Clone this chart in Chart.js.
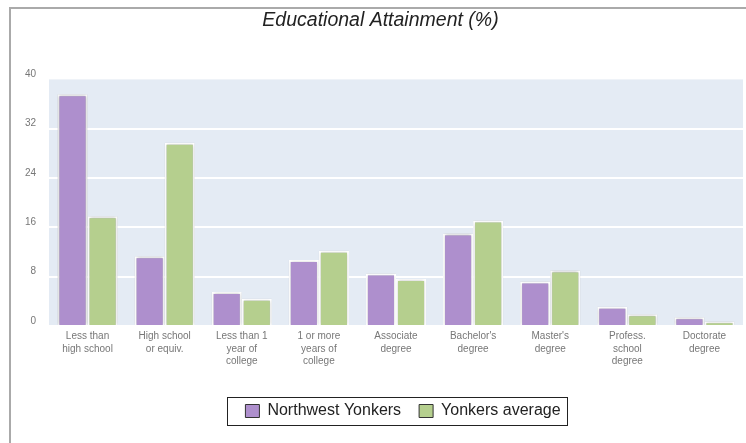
<!DOCTYPE html>
<html>
<head>
<meta charset="utf-8">
<script src="https://cdn.jsdelivr.net/npm/chart.js@4.4.1/dist/chart.umd.min.js"></script>
<style>
  html, body { margin: 0; padding: 0; background: #fff; overflow: hidden; }
  #frame { position: absolute; left: 9px; top: 7px; width: 800px; height: 500px;
           border-left: 2px solid #aaa; border-top: 2px solid #aaa; }
  #wrap { position: absolute; left: 0; top: 0; width: 746px; height: 443px; }
</style>
</head>
<body>
<div id="frame"></div>
<div id="wrap"><canvas id="myChart" width="746" height="443"></canvas></div>
<script>
// data
const categories = [
  ["Less than", "high school"],
  ["High school", "or equiv."],
  ["Less than 1", "year of", "college"],
  ["1 or more", "years of", "college"],
  ["Associate", "degree"],
  ["Bachelor's", "degree"],
  ["Master's", "degree"],
  ["Profess.", "school", "degree"],
  ["Doctorate", "degree"]
]
const northwestYonkers = [37.6, 11.3, 5.5, 10.7, 8.5, 15.0, 7.2, 3.1, 1.4]
const yonkersAverage = [17.8, 29.7, 4.4, 12.2, 7.6, 17.1, 9.0, 1.9, 0.7]
const yTicks = [0, 8, 16, 24, 32, 40]

const plotBg = {
  id: "plotBg",
  beforeDraw(chart) {
    const a = chart.chartArea, c = chart.ctx
    c.save()
    c.fillStyle = "#e4ebf4"
    c.fillRect(a.left, a.top, a.right - a.left, a.bottom - a.top)
    c.restore()
  }
}

// soft grey halo round the bars
const barShadow = {
  id: "barShadow",
  beforeDatasetsDraw(chart) {
    const c = chart.ctx
    c.save()
    c.shadowColor = "rgba(0,0,0,0.28)"
    c.shadowBlur = 3
  },
  afterDatasetsDraw(chart) {
    chart.ctx.restore()
  }
}

// nudge legend a bit right, like the original
const LEGEND_SHIFT = 7
const legendShift = {
  id: "legendShift",
  afterUpdate(chart) {
    const lg = chart.legend
    if (!lg) return
    lg.left += LEGEND_SHIFT
    lg.right += LEGEND_SHIFT
    lg.legendHitBoxes.forEach(h => { h.left += LEGEND_SHIFT })
  }
}

// box round the legend
const legendBox = {
  id: "legendBox",
  afterDraw(chart) {
    const lg = chart.legend
    if (!lg || !lg.legendHitBoxes.length) return
    const hb = lg.legendHitBoxes
    const first = hb[0], last = hb[hb.length - 1]
    const c = chart.ctx
    c.save()
    c.strokeStyle = "#222"
    c.lineWidth = 1
    const x1 = Math.round(first.left - 18) + 0.5
    const x2 = Math.round(last.left + last.width + 6) + 0.5
    const yc = first.top + first.height / 2
    c.strokeRect(x1, Math.round(yc - 14) + 0.5, x2 - x1, 28)
    c.restore()
  }
}

window.onload = function(){
  const ctx = document.getElementById("myChart")
  new Chart(ctx, {
    type: "bar",
    data: {
      labels: categories,
      datasets: [{
        label: "Northwest Yonkers",
        data: northwestYonkers,
        backgroundColor: "#ae8fcd",
        borderColor: "#ffffff",
        borderWidth: 2,
        borderSkipped: "bottom"
      }, {
        label: "Yonkers average",
        data: yonkersAverage,
        backgroundColor: "#b5cf8e",
        borderColor: "#ffffff",
        borderWidth: 2,
        borderSkipped: "bottom"
      }]
    },
    options: {
      responsive: false,
      animation: false,
      datasets: { bar: { categoryPercentage: 0.78, barPercentage: 1.0 } },
      layout: { padding: { left: 18, right: 3, top: 0, bottom: 14 } },
      plugins: {
        title: {
          display: true,
          text: "Educational Attainment (%)",
          color: "#222",
          font: { family: "Liberation Sans, Arial", size: 19.5, style: "italic", weight: "normal" },
          padding: { top: 9, bottom: 47 }
        },
        legend: {
          display: true,
          position: "bottom",
          fullSize: false,
          labels: {
            color: "#222",
            font: { family: "Liberation Sans, Arial", size: 16 },
            boxWidth: 14,
            boxHeight: 13,
            padding: 18,
            generateLabels(chart) {
              return chart.data.datasets.map((ds, i) => ({
                text: ds.label,
                fillStyle: ds.backgroundColor,
                strokeStyle: "#333",
                lineWidth: 1,
                fontColor: "#222",
                datasetIndex: i
              }))
            }
          }
        },
        tooltip: { enabled: false }
      },
      scales: {
        x: {
          grid: { display: false, drawTicks: false },
          border: { display: false },
          afterFit(axis) { axis.height += 13 },
          ticks: {
            color: "#777",
            font: { family: "Liberation Sans, Arial", size: 10, lineHeight: 1.27 },
            padding: 4,
            maxRotation: 0,
            autoSkip: false
          }
        },
        y: {
          min: 0,
          max: 40,
          afterBuildTicks(axis) { axis.ticks = yTicks.map(v => ({ value: v })) },
          afterFit(axis) { axis.width = 31 },
          grid: {
            drawTicks: false,
            lineWidth: 2,
            color: c => (c.tick && c.tick.value === 40) ? "rgba(0,0,0,0)" : "#ffffff"
          },
          border: { display: false },
          ticks: {
            color: "#777",
            font: { family: "Liberation Sans, Arial", size: 10 },
            padding: 13,
            labelOffset: -5
          }
        }
      }
    },
    plugins: [plotBg, barShadow, legendShift, legendBox]
  })
}
</script>
</body>
</html>
